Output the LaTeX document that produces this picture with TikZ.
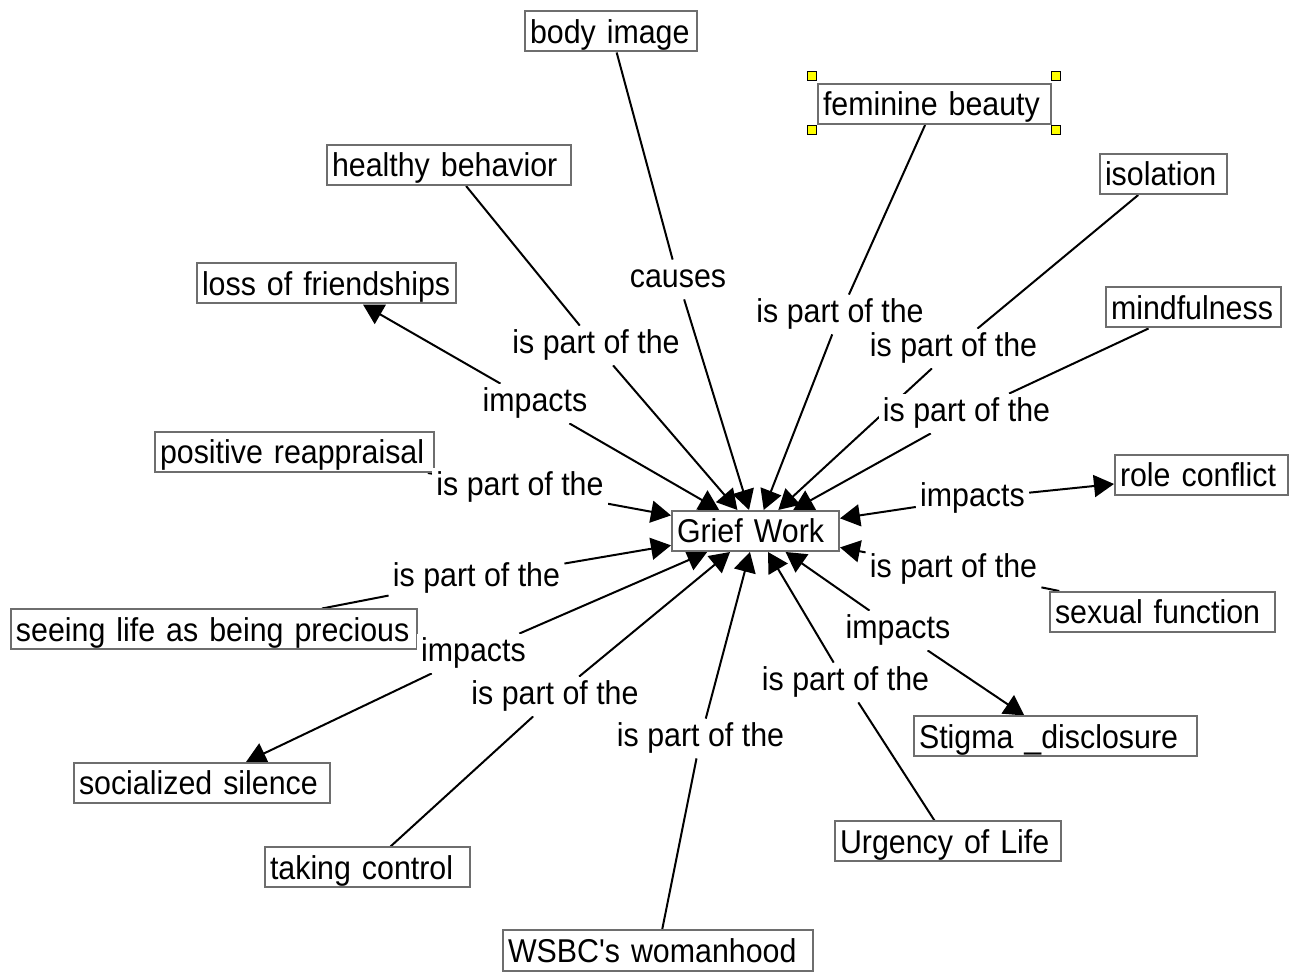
\documentclass[tikz,border=0pt]{standalone}
\usepackage{fontspec}
\newfontfamily\diagfont{Liberation Sans}[FakeStretch=0.92]
\usetikzlibrary{arrows.meta}
\pgfdeclarelayer{edges}
\pgfsetlayers{edges,main}
\definecolor{boxgray}{HTML}{6E6E6E}
\definecolor{handleyellow}{HTML}{FFFF00}

\begin{document}
\begin{tikzpicture}[x=0.5pt,y=-0.5pt,
  every node/.style={font=\diagfont\fontsize{16.5}{18}\selectfont},
  concept/.style={draw=boxgray, line width=1pt, fill=white, minimum height=20pt,
    inner xsep=2.5pt, inner ysep=0pt, text height=13.75pt, text depth=1.75pt, align=left},
  rel/.style={fill=white, inner sep=2pt, text height=12pt, text depth=3.5pt, anchor=base},
  link/.style={line width=1pt, black},
  tip/.style={link, -{Triangle[length=10pt,width=11pt]}},
  handle/.style={draw=black, line width=0.6pt, fill=handleyellow, minimum size=4.5pt, inner sep=0pt}
]
\useasboundingbox (0,0) rectangle (1297,972);

% concept boxes (centre, text width = box width - padding)
\node[concept, text width=78.5pt]  (grief)  at (755.5,531)   {Grief Work};
\node[concept, text width=81pt]    (body)   at (611,31.5)    {body image};
\node[concept, text width=111.5pt] (femb)   at (934.5,104)   {feminine beauty};
\node[concept, text width=117pt]   (health) at (449,165)     {healthy behavior};
\node[concept, text width=58.5pt]  (isol)   at (1163.5,174)  {isolation};
\node[concept, text width=124.5pt] (loss)   at (326.5,283.5) {loss of friendships};
\node[concept, text width=82.5pt]  (mind)   at (1193.5,307.5){mindfulness};
\node[concept, text width=134.5pt] (posr)   at (294.5,452)   {positive reappraisal};
\node[concept, text width=81.5pt]  (role)   at (1201.5,475)  {role conflict};
\node[concept, text width=198pt]   (seeing) at (214,629.5)   {seeing life as being precious};
\node[concept, text width=107.5pt] (sexf)   at (1162.5,612)  {sexual function};
\node[concept, text width=136.5pt] (stigma) at (1055.5,736.5){Stigma \_disclosure};
\node[concept, text width=123pt]   (social) at (202,783)     {socialized silence};
\node[concept, text width=108pt]   (urg)    at (948,841.5)   {Urgency of Life};
\node[concept, text width=97.5pt]  (taking) at (367.5,867.5) {taking control};
\node[concept, text width=150pt]   (wsbc)   at (658,950.5)   {WSBC's womanhood};

% selection handles around "feminine beauty"
\node[handle] (hnw) at (812,76)  {};
\node[handle] (hne) at (1056,76) {};
\node[handle] (hsw) at (812,130) {};
\node[handle] (hse) at (1056,130){};

% relation labels (placed on their baselines)
\node[rel] (rBody)   at (678,288)   {causes};
\node[rel] (rHealth) at (596,354)   {is part of the};
\node[rel] (rLoss)   at (535,412)   {impacts};
\node[rel] (rPosr)   at (520,496)   {is part of the};
\node[rel] (rFemb)   at (840,323)   {is part of the};
\node[rel] (rIsol)   at (953.5,357) {is part of the};
\node[rel] (rMind)   at (966.5,422) {is part of the};
\node[rel] (rRole)   at (972.5,507) {impacts};
\node[rel] (rSexf)   at (953.5,578) {is part of the};
\node[rel] (rStigma) at (898,639)   {impacts};
\node[rel] (rUrg)    at (845.5,691) {is part of the};
\node[rel] (rWsbc)   at (700.5,747) {is part of the};
\node[rel] (rTaking) at (555,705)   {is part of the};
\node[rel] (rSocial) at (473.5,662) {impacts};
\node[rel] (rSeeing) at (476.5,587) {is part of the};

\begin{pgfonlayer}{edges}
  \fill[white] (0,0) rectangle (1297,972);
  % concept -> label
  \draw[link] (body)   -- (rBody);
  \draw[link] (health) -- (rHealth);
  \draw[link] (posr)   -- (rPosr);
  \draw[link] (femb)   -- (rFemb);
  \draw[link] (isol)   -- (rIsol);
  \draw[link] (mind)   -- (rMind);
  \draw[link] (sexf)   -- (rSexf);
  \draw[link] (urg)    -- (rUrg);
  \draw[link] (wsbc)   -- (rWsbc);
  \draw[link] (taking) -- (rTaking);
  \draw[link] (seeing) -- (rSeeing);
  % label -> Grief Work
  \draw[tip] (rBody)   -- (grief);
  \draw[tip] (rHealth) -- (grief);
  \draw[tip] (rLoss)   -- (grief);
  \draw[tip] (rPosr)   -- (grief);
  \draw[tip] (rFemb)   -- (grief);
  \draw[tip] (rIsol)   -- (grief);
  \draw[tip] (rMind)   -- (grief);
  \draw[tip] (rRole)   -- (grief);
  \draw[tip] (rSexf)   -- (grief);
  \draw[tip] (rStigma) -- (grief);
  \draw[tip] (rUrg)    -- (grief);
  \draw[tip] (rWsbc)   -- (grief);
  \draw[tip] (rTaking) -- (grief);
  \draw[tip] (rSocial) -- (grief);
  \draw[tip] (rSeeing) -- (grief);
  % impacts -> target
  \draw[tip] (rLoss)   -- (loss);
  \draw[tip] (rRole)   -- (role);
  \draw[tip] (rStigma) -- (stigma);
  \draw[tip] (rSocial) -- (social);
\end{pgfonlayer}
\end{tikzpicture}
\end{document}
